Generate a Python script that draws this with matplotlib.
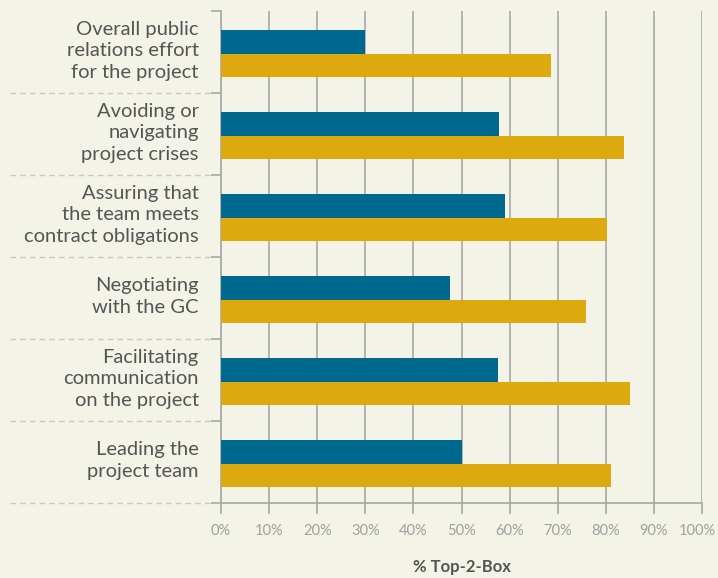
import numpy as np
import matplotlib.pyplot as plt
from matplotlib.ticker import FixedLocator
import matplotlib.transforms as mtransforms

categories = ['Overall public\nrelations effort\nfor the project',
              'Avoiding or\nnavigating\nproject crises',
              'Assuring that\nthe team meets\ncontract obligations',
              'Negotiating\nwith the GC',
              'Facilitating\ncommunication\non the project',
              'Leading the\nproject team']
blue_vals = [30.0, 57.8, 59.0, 47.6, 57.6, 50.1]
gold_vals = [68.6, 83.8, 80.2, 75.9, 85.0, 81.1]
xticks = list(range(0, 101, 10))

bg = '#f3f3e7'
blue = '#00698f'
gold = '#dcaa0f'
grey = '#a8a8a8'

plt.rcParams['font.family'] = ['Lato', 'DejaVu Sans']

fig = plt.figure(figsize=(7.18, 5.78), dpi=100, facecolor=bg)
ax = fig.add_axes([221/718, 1-503/578, 481/718, 492/578], facecolor=bg)

y = np.arange(len(categories))
h = 0.29
ax.barh(y - h/2 + 0.02, blue_vals, height=h, color=blue, zorder=3)
ax.barh(y + h/2 + 0.02, gold_vals, height=h, color=gold, zorder=3)

ax.set_xlim(0, 100)
ax.set_ylim(len(categories) - 0.5, -0.5)
ax.set_xticks(xticks)
ax.set_xticklabels([f'{t}%' for t in xticks])
ax.grid(axis='x', color=grey, linewidth=1.2, zorder=0)
ax.set_axisbelow(True)

ax.set_yticks(y)
ax.set_yticklabels(categories, fontsize=14.5, color='#555555', linespacing=1.35)
ax.yaxis.set_minor_locator(FixedLocator(np.arange(-0.5, len(categories), 1)))
ax.tick_params(axis='y', which='major', length=0, pad=16)
ax.tick_params(axis='y', which='minor', length=7, width=1.2, color=grey, direction='out')
ax.tick_params(axis='x', which='major', length=8, width=1.2, color=grey, labelcolor='#a0a0a0',
               labelsize=10.5, pad=7)

# nudge category labels up a little
for lab in ax.get_yticklabels():
    lab.set_transform(lab.get_transform() + mtransforms.ScaledTranslation(0, 5/100, fig.dpi_scale_trans))

# keep the last tick label inside the figure
last = ax.get_xticklabels()[-1]
last.set_transform(last.get_transform() + mtransforms.ScaledTranslation(-5/100, 0, fig.dpi_scale_trans))

for s in ['top', 'right']:
    ax.spines[s].set_visible(False)
for s in ['left', 'bottom']:
    ax.spines[s].set_color(grey)
    ax.spines[s].set_linewidth(1.2)

# dashed separators in the label area
trans = mtransforms.blended_transform_factory(fig.transFigure, ax.transData)
for b in np.arange(0.5, len(categories), 1):
    ax.plot([10/718, 212/718], [b, b], transform=trans, color='#c8c8c8', linewidth=1,
            linestyle=(0, (4, 3)), clip_on=False)

ax.set_xlabel('% Top-2-Box', fontsize=12, fontweight='bold', color='#555555', labelpad=15)

fig.savefig('out.png', dpi=100, facecolor=bg)
